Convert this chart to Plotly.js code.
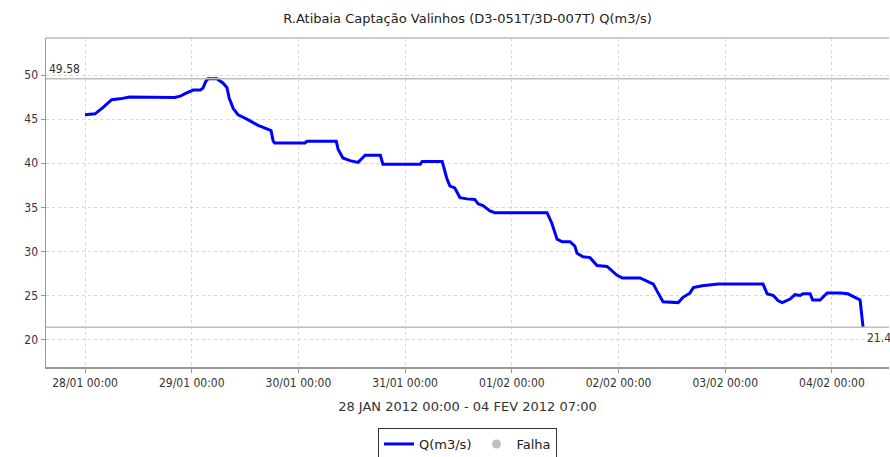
<!DOCTYPE html>
<html>
<head>
<meta charset="utf-8">
<script src="https://cdn.plot.ly/plotly-3.0.1.min.js"></script>
<style>html,body{margin:0;padding:0;background:#fff;}#chart{width:890px;height:457px;}</style>
</head>
<body>
<div id="chart"></div>
<script>
const times = [
"2012-01-28 00:00","2012-01-28 02:15","2012-01-28 04:00","2012-01-28 06:00","2012-01-28 07:50","2012-01-28 10:00",
"2012-01-28 20:10","2012-01-28 21:25","2012-01-28 22:30","2012-01-29 00:20","2012-01-29 01:55","2012-01-29 02:30",
"2012-01-29 03:10","2012-01-29 03:40","2012-01-29 05:40","2012-01-29 07:00","2012-01-29 07:55","2012-01-29 08:25",
"2012-01-29 09:20","2012-01-29 10:25","2012-01-29 12:25","2012-01-29 14:55","2012-01-29 16:55","2012-01-29 17:50",
"2012-01-29 18:20","2012-01-29 18:40","2012-01-30 01:30","2012-01-30 01:55","2012-01-30 08:30","2012-01-30 08:55",
"2012-01-30 10:00","2012-01-30 11:35","2012-01-30 13:25","2012-01-30 15:00","2012-01-30 18:25","2012-01-30 19:00",
"2012-01-31 03:25","2012-01-31 03:50","2012-01-31 08:20","2012-01-31 09:25","2012-01-31 10:05","2012-01-31 11:10",
"2012-01-31 12:20","2012-01-31 13:55","2012-01-31 15:40","2012-01-31 16:25","2012-01-31 17:30","2012-01-31 19:05",
"2012-01-31 20:10","2012-02-01 07:55","2012-02-01 09:00","2012-02-01 10:10","2012-02-01 11:20","2012-02-01 13:05",
"2012-02-01 14:10","2012-02-01 14:40","2012-02-01 16:00","2012-02-01 17:35","2012-02-01 19:10","2012-02-01 21:25",
"2012-02-01 23:40","2012-02-02 00:50","2012-02-02 04:50","2012-02-02 06:25","2012-02-02 07:50","2012-02-02 08:40",
"2012-02-02 10:00","2012-02-02 13:25","2012-02-02 14:30","2012-02-02 16:05","2012-02-02 16:50","2012-02-02 18:50",
"2012-02-02 20:35","2012-02-02 22:25","2012-02-03 08:30","2012-02-03 09:25","2012-02-03 10:50","2012-02-03 11:55",
"2012-02-03 12:50","2012-02-03 14:35","2012-02-03 15:40","2012-02-03 16:50","2012-02-03 17:30","2012-02-03 19:05",
"2012-02-03 19:40","2012-02-03 21:20","2012-02-03 22:55","2012-02-04 01:50","2012-02-04 03:35","2012-02-04 05:35",
"2012-02-04 06:20","2012-02-04 07:00"
];
const flow = [
45.5,45.6,46.3,47.2,47.3,47.5,
47.45,47.6,47.9,48.3,48.3,48.5,
49.3,49.58,49.58,49.1,48.6,47.4,
46.2,45.5,45.0,44.3,43.9,43.7,
42.5,42.3,42.3,42.5,42.5,41.6,
40.6,40.3,40.1,40.9,40.9,39.9,
39.9,40.2,40.2,38.2,37.4,37.2,
36.1,35.96,35.9,35.4,35.2,34.6,
34.4,34.4,33.2,31.4,31.1,31.1,
30.6,29.8,29.4,29.3,28.4,28.3,
27.3,27.0,27.0,26.6,26.3,25.5,
24.3,24.2,24.8,25.3,25.9,26.1,
26.2,26.3,26.3,25.2,25.0,24.4,
24.2,24.6,25.1,25.0,25.2,25.2,
24.5,24.5,25.3,25.3,25.2,24.7,
24.5,21.4
];
const maxValue = 49.58;
const minValue = 21.4;
const chartTitle = "R.Atibaia Captação Valinhos (D3-051T/3D-007T) Q(m3/s)";
const xTitle = "28 JAN 2012 00:00 - 04 FEV 2012 07:00";

const font = "DejaVu Sans, sans-serif";
const cfont = "DejaVu Sans Condensed, DejaVu Sans, sans-serif";
const traces = [
  {x: times, y: flow, type: "scatter", mode: "lines", name: "Q(m3/s)",
   line: {color: "#0000ff", width: 3}},
  {x: [null], y: [null], type: "scatter", mode: "markers", name: "Falha",
   marker: {color: "#c0c0c0", size: 9}}
];
const layout = {
  width: 890, height: 457,
  margin: {l: 46, r: 1, t: 38, b: 90},
  paper_bgcolor: "#fff", plot_bgcolor: "#fff",
  font: {family: font, size: 11, color: "#333"},
  title: {text: chartTitle, font: {family: font, size: 13, color: "#222"},
          x: 0.5, xref: "paper", xanchor: "center", y: 1 - 18/457, yref: "container", yanchor: "middle"},
  xaxis: {
    type: "date",
    range: ["2012-01-27 15:13", "2012-02-04 12:50"],
    dtick: 86400000, tick0: "2012-01-28 00:00",
    tickformat: "%d/%m %H:%M",
    ticks: "outside", ticklen: 4, tickcolor: "#999",
    showline: true, linecolor: "#999", linewidth: 1.5, mirror: false,
    showgrid: true, gridcolor: "#d8d8d8", griddash: "3px,3px", gridwidth: 1,
    zeroline: false,
    tickfont: {family: cfont, size: 12, color: "#333"},
    title: {text: xTitle, font: {family: font, size: 13, color: "#333"}, standoff: 13},
    automargin: false
  },
  yaxis: {
    range: [16.9, 54.2],
    dtick: 5, tick0: 0,
    ticks: "outside", ticklen: 4, tickcolor: "#999",
    showline: true, linecolor: "#999", linewidth: 1.5,
    showgrid: true, gridcolor: "#d8d8d8", griddash: "3px,3px", gridwidth: 1,
    zeroline: false,
    tickfont: {family: cfont, size: 12, color: "#333"},
    automargin: false
  },
  shapes: [
    {type: "line", xref: "paper", x0: 0, x1: 1, yref: "y", y0: maxValue, y1: maxValue,
     line: {color: "#bdbdbd", width: 1.5}},
    {type: "line", xref: "paper", x0: 0, x1: 1, yref: "y", y0: minValue, y1: minValue,
     line: {color: "#bdbdbd", width: 1.5}},
    {type: "line", xref: "paper", x0: 0, x1: 1, yref: "paper", y0: 1, y1: 1,
     line: {color: "#bbb", width: 1.5}}
  ],
  annotations: [
    {xref: "paper", x: 0, xanchor: "left", yref: "y", y: maxValue, yanchor: "bottom",
     text: String(maxValue), showarrow: false, xshift: 1, yshift: 1,
     font: {family: cfont, size: 12, color: "#333"}},
    {xref: "paper", x: 1, xanchor: "right", yref: "y", y: minValue, yanchor: "top",
     text: String(minValue), showarrow: false, xshift: 4, yshift: -2,
     font: {family: cfont, size: 12, color: "#333"}}
  ],
  showlegend: true,
  legend: {orientation: "h", x: 0.5, xanchor: "center", xref: "paper",
           y: 1 - 428/457, yanchor: "top", yref: "container",
           bordercolor: "#333", borderwidth: 1, font: {family: font, size: 13, color: "#222"},
           tracegroupgap: 0}
};
Plotly.newPlot("chart", traces, layout, {staticPlot: true, displayModeBar: false});
</script>
</body>
</html>
